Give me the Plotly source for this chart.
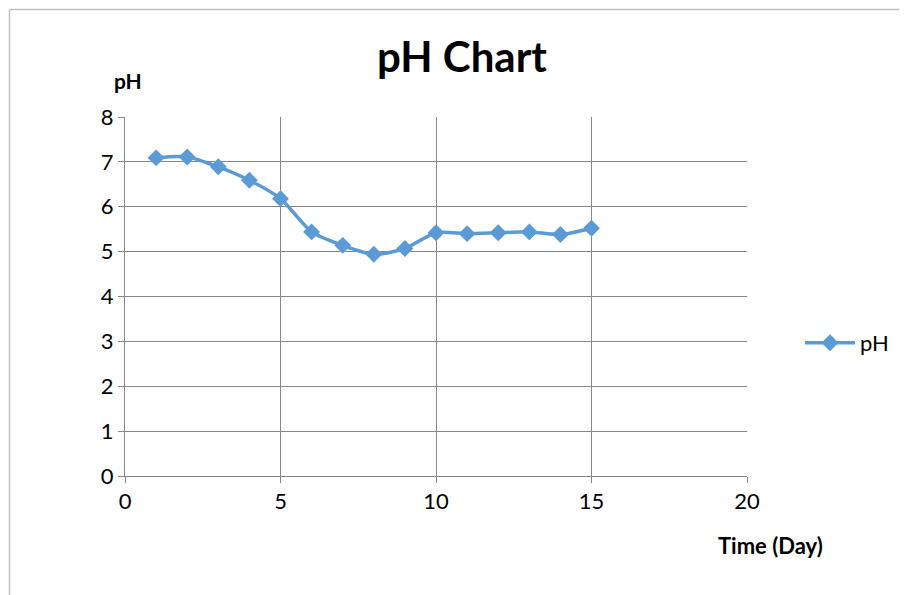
import plotly.graph_objects as go

days = [1, 2, 3, 4, 5, 6, 7, 8, 9, 10, 11, 12, 13, 14, 15]
ph_values = [7.09, 7.11, 6.89, 6.59, 6.18, 5.44, 5.14, 4.94, 5.07, 5.42, 5.40, 5.42, 5.44, 5.38, 5.52]
x_ticks = [0, 5, 10, 15, 20]
y_ticks = [0, 1, 2, 3, 4, 5, 6, 7, 8]

FONT = "Lato"
BLUE = "#5B9BD5"
GRID = "#878787"
OFF = 8  # page body margin

fig = go.Figure()
fig.add_trace(go.Scatter(
    x=days, y=ph_values, name="pH", mode="lines+markers",
    line=dict(color=BLUE, width=3.5, shape="spline", smoothing=0.7),
    marker=dict(symbol="diamond", size=13, color=BLUE),
))

fx = (9.5 - 125) / 622
fy = (476 - 9.5) / 359

fig.update_layout(
    width=907, height=595, autosize=False,
    margin=dict(l=125 - OFF, r=160 + OFF, t=117 - OFF, b=119 + OFF),
    paper_bgcolor="white", plot_bgcolor="white",
    font=dict(family=FONT, size=22, color="#000000"),
    title=dict(text="<b>pH Chart</b>", x=(462 - OFF) / 907, xanchor="center",
               y=1 - (57 - OFF) / 595, yanchor="middle", font=dict(size=42, family=FONT)),
    showlegend=True,
    legend=dict(x=(800 - 125) / 622, xanchor="left", y=(476 - 343) / 359, yanchor="middle",
                itemwidth=50, font=dict(size=22, family=FONT), bgcolor="rgba(0,0,0,0)"),
    xaxis=dict(range=[0, 20], tickvals=x_ticks, showgrid=True, gridcolor=GRID, gridwidth=1,
               showline=True, linecolor=GRID, linewidth=1, mirror=False,
               ticks="outside", ticklen=6, tickcolor=GRID, zeroline=False,
               tickfont=dict(size=22, family=FONT)),
    yaxis=dict(range=[0, 8], tickvals=y_ticks, showgrid=True, gridcolor=GRID, gridwidth=1,
               showline=True, linecolor=GRID, linewidth=1,
               ticks="outside", ticklen=6, tickcolor=GRID, zeroline=False,
               tickfont=dict(size=22, family=FONT)),
    annotations=[
        dict(text="<b>pH</b>", xref="paper", yref="paper", x=0.005, y=(476 - 80) / 359,
             showarrow=False, xanchor="center", yanchor="middle", font=dict(size=21, family=FONT)),
        dict(text="<b>Time (Day)</b>", xref="paper", yref="paper", x=(770 - 125) / 622, y=(476 - 545) / 359,
             showarrow=False, xanchor="center", yanchor="middle", font=dict(size=22, family=FONT)),
    ],
    shapes=[
        dict(type="line", xref="paper", yref="paper", x0=fx, x1=fx,
             y0=fy, y1=(476 - 620) / 359, line=dict(color="#BFBFBF", width=1.5)),
        dict(type="line", xref="paper", yref="paper", x0=fx, x1=(930 - 125) / 622,
             y0=fy, y1=fy, line=dict(color="#BFBFBF", width=1.5)),
    ],
)

fig.write_html("out.html")
